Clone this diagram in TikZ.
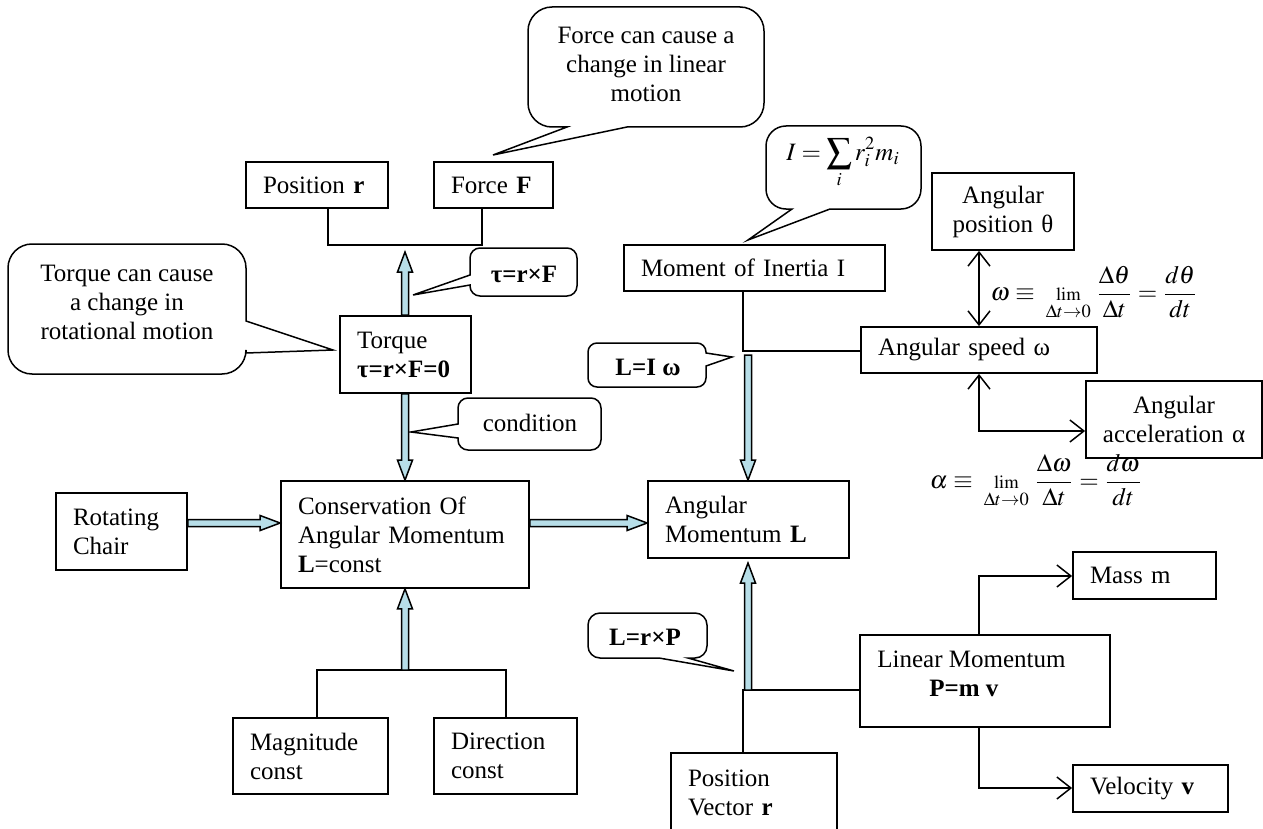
\documentclass[tikz,border=0pt]{standalone}
\usepackage{amsmath}
\usepackage{fontspec}
\usepackage{mathptmx}
\setmainfont{Liberation Serif}
\usetikzlibrary{arrows.meta,calc}
\definecolor{fatblue}{RGB}{183,222,232}
\newcommand\fs{\fontsize{12.5}{14.5}\selectfont}
\tikzset{
 box/.style={draw, line width=0.9pt, inner xsep=8.5pt, inner ysep=0pt, align=left, font=\fs},
 cbox/.style={box, align=center},
 fat/.style={draw, line width=0.75pt, fill=fatblue, line join=miter},
 wire/.style={draw, line width=0.75pt},
 balloon/.style={draw, line width=0.75pt, fill=white},
 btext/.style={font=\fs, align=center, inner sep=0pt},
 >={Straight Barb[length=7pt,width=11pt]}
}
\newcommand\fatarrow[2]{%
 \draw[fat] let \p1=(#1), \p2=(#2), \n1={veclen(\x2-\x1,\y2-\y1)}, \n2={atan2(\y2-\y1,\x2-\x1)} in
 ($(\p1)+({\n2+90}:1.75pt)$) -- ($(\p1)+({\n2}:{\n1-10pt})+({\n2+90}:1.75pt)$) -- ($(\p1)+({\n2}:{\n1-10pt})+({\n2+90}:3.75pt)$) -- (\p2) -- ($(\p1)+({\n2}:{\n1-10pt})+({\n2-90}:3.75pt)$) -- ($(\p1)+({\n2}:{\n1-10pt})+({\n2-90}:1.75pt)$) -- ($(\p1)+({\n2-90}:1.75pt)$) -- cycle;}
\begin{document}
\begin{tikzpicture}[x=0.5pt,y=-0.5pt]
\useasboundingbox (0,0) rectangle (1263,829);
\clip (0,0) rectangle (1263,829);
\fill[white] (0,0) rectangle (1263,829);

% balloons
\draw[balloon] (646,7) [rounded corners=12pt] -- (764,7) -- (764,127) [sharp corners] -- (627,127) -- (493,155) -- (567,127) [rounded corners=12pt] -- (528,127) -- (528,7) -- cycle;
\draw[balloon] (127,244) [rounded corners=12pt] -- (246,244) [sharp corners] -- (246,321) -- (333,350) -- (246,353) [rounded corners=12pt] -- (246,374) -- (8,374) -- (8,244) -- cycle;
\draw[balloon] (523,248) [rounded corners=5pt] -- (577,248) -- (577,296) -- (470,296) [sharp corners] -- (470,285) -- (413,295) -- (470,275) [rounded corners=5pt] -- (470,248) -- cycle;
\draw[balloon] (530,398) [rounded corners=5pt] -- (601,398) -- (601,450) -- (458,450) [sharp corners] -- (458,438) -- (411,432) -- (458,424) [rounded corners=5pt] -- (458,398) -- cycle;
\draw[balloon] (647,343) [rounded corners=4.5pt] -- (706,343) [sharp corners] -- (706,353) -- (732,357) -- (706,366) [rounded corners=4.5pt] -- (706,387) -- (588,387) -- (588,343) -- cycle;
\draw[balloon] (843,126) [rounded corners=10pt] -- (921,126) -- (921,209) [sharp corners] -- (830,209) -- (748,240) -- (792,209) [rounded corners=10pt] -- (766,209) -- (766,126) -- cycle;
\draw[balloon] (647,613) [rounded corners=6pt] -- (707,613) -- (707,658) [sharp corners] -- (688,658) -- (734,671) -- (659,658) [rounded corners=6pt] -- (588,658) -- (588,613) -- cycle;

% balloon texts
\node[btext] (fct) at (646,64) {Force can cause a\\change in linear\\motion};
\node[btext] (tct) at (127,302) {Torque can cause\\a change in\\rotational motion};
\node[btext] (tauct) at (524,274) {\textbf{τ=r×F}};
\node[btext] (condct) at (530,423) {condition};
\node[btext] (lict) at (648,367) {\textbf{L=I ω}};
\node[btext] (ict) at (843,163) {$\displaystyle I=\sum_i r_i^2 m_i$};
\node[btext] (lrct) at (645,637) {\textbf{L=r×P}};

% boxes
\node[box, minimum width=71pt, minimum height=23pt, text width=54pt] (posr) at (317,185) {Position \textbf{r}};
\node[box, minimum width=59.5pt, minimum height=23pt, text width=42.5pt] (force) at (493.5,185) {Force \textbf{F}};
\node[box, minimum width=65.5pt, minimum height=38.5pt, text width=48.5pt] (torque) at (405.5,354.5) {Torque\\\textbf{τ=r×F=0}};
\node[box, minimum width=124pt, minimum height=53.5pt, text width=107pt] (cons) at (405,534.5) {Conservation Of\\Angular Momentum\\\textbf{L}=const};
\node[box, minimum width=65.5pt, minimum height=38.5pt, text width=48.5pt] (chair) at (121.5,531.5) {Rotating\\Chair};
\node[box, minimum width=77.5pt, minimum height=38pt, text width=60.5pt] (mag) at (310.5,756) {Magnitude\\const};
\node[box, minimum width=71.5pt, minimum height=38pt, text width=54.5pt] (dir) at (505.5,756) {Direction\\const};
\node[box, minimum width=100.5pt, minimum height=38.5pt, text width=83.5pt] (angmom) at (748.5,519.5) {Angular\\Momentum \textbf{L}};
\node[box, minimum width=130.5pt, minimum height=23pt, text width=113.5pt] (moi) at (754.5,268) {Moment of Inertia I};
\node[cbox, minimum width=71pt, minimum height=38.5pt, text width=60pt, inner xsep=5.5pt] (angpos) at (1003,211.5) {Angular\\position θ};
\node[box, minimum width=118pt, minimum height=23pt, text width=101pt] (angspeed) at (979,350) {Angular speed ω};
\node[cbox, minimum width=88pt, minimum height=38.5pt, text width=80pt, inner xsep=4pt] (angacc) at (1174,419.5) {Angular\\acceleration α};
\node[box, minimum width=125pt, minimum height=46pt] (linmom) at (985,681) {};
\node[font=\fs, align=left, anchor=west, inner sep=0pt] (linmomtxt) at (877,674) {Linear Momentum\\\hspace*{26pt}\textbf{P=m v}};
\node[box, minimum width=71.5pt, minimum height=23.5pt, text width=54.5pt] (mass) at (1144.5,575.5) {Mass m};
\node[box, minimum width=77.5pt, minimum height=23.5pt, text width=60.5pt] (vel) at (1150.5,788.5) {Velocity \textbf{v}};
\node[box, minimum width=83pt, minimum height=40pt, text width=66pt] (posvec) at (754,793) {Position\\Vector \textbf{r}};

% formulas
\node[font=\fs, inner sep=0pt] (wform) at (1094,293) {$\displaystyle \omega\equiv\;\mathop{\scriptstyle\lim}\limits_{\Delta t\to0}\,\frac{\Delta\theta}{\Delta t}=\frac{d\theta}{dt}$};
\node[font=\fs, inner sep=0pt] (aform) at (1036,481) {$\displaystyle \alpha\equiv\;\mathop{\scriptstyle\lim}\limits_{\Delta t\to0}\,\frac{\Delta\omega}{\Delta t}=\frac{d\omega}{dt}$};

% junction coordinates
\coordinate (j1) at (328,245);
\coordinate (j2) at (482,245);
\coordinate (t1) at (405,252);
\coordinate (ay) at (0,523);
\coordinate (la) at (748,355);
\coordinate (lb) at (748,690);
\coordinate (lbt) at (748,563);
\coordinate (cb) at (405,670);
\coordinate (mb1) at (317,670);
\coordinate (mb2) at (506,670);
\coordinate (m1) at (743,351);
\coordinate (p1) at (743,690);
\coordinate (a1) at (979,431);
\coordinate (q1) at (979,576);
\coordinate (q2) at (979,788);

% thin connectors
\draw[wire] (posr.south -| j1) -- (j1) -- (j2) -- (force.south -| j2);
\draw[wire] (mag.north -| mb1) -- (mb1) -- (mb2) -- (dir.north -| mb2);
\draw[wire] (moi.south -| m1) -- (m1) -- (angspeed.west |- m1);
\draw[wire] (posvec.north -| p1) -- (p1) -- (linmom.west |- p1);
\draw[wire,<->] (angspeed.north |- angpos.south) -- (angspeed.north);
\draw[wire,<->] (angspeed.south) -- (a1) -- (angacc.west |- a1);
\draw[wire,->] (linmom.north -| q1) -- (q1) -- (mass.west |- q1);
\draw[wire,->] (linmom.south -| q2) -- (q2) -- (vel.west |- q2);

% fat arrows
\fatarrow{torque.north -| t1}{t1}
\fatarrow{torque.south -| t1}{cons.north -| t1}
\fatarrow{chair.east |- ay}{cons.west |- ay}
\fatarrow{cons.east |- ay}{angmom.west |- ay}
\fatarrow{la}{angmom.north -| la}
\fatarrow{lb}{lbt}
\fatarrow{cb}{cons.south -| cb}
\end{tikzpicture}
\end{document}
